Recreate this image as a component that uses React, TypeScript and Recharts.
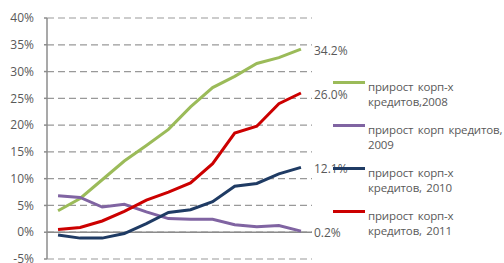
import { LineChart, Line, XAxis, YAxis, CartesianGrid, ReferenceLine } from "recharts";

export const months = ["1", "2", "3", "4", "5", "6", "7", "8", "9", "10", "11", "12"];
export const yTicks = [-5, 0, 5, 10, 15, 20, 25, 30, 35, 40];

export const corp2008 = [4.0, 6.3, 9.8, 13.3, 16.2, 19.2, 23.4, 27.0, 29.1, 31.5, 32.6, 34.2];
export const corp2009 = [6.8, 6.5, 4.7, 5.2, 3.8, 2.55, 2.4, 2.4, 1.4, 1.0, 1.25, 0.2];
export const corp2010 = [-0.5, -1.1, -1.1, -0.25, 1.6, 3.7, 4.2, 5.7, 8.6, 9.1, 10.9, 12.1];
export const corp2011 = [0.5, 0.9, 2.1, 3.9, 6.0, 7.5, 9.2, 12.8, 18.5, 19.8, 24.0, 26.0];

const series = [
  { key: "y2008", name: "прирост корп-х\nкредитов,2008", color: "#9BBB59", values: corp2008 },
  { key: "y2009", name: "прирост корп кредитов,\n2009", color: "#8064A2", values: corp2009 },
  { key: "y2010", name: "прирост корп-х\nкредитов, 2010", color: "#1F3B64", values: corp2010 },
  { key: "y2011", name: "прирост корп-х\nкредитов, 2011", color: "#CC0000", values: corp2011 },
];

const data = months.map((m, i) => {
  const row: Record<string, string | number> = { month: m };
  series.forEach((s) => (row[s.key] = s.values[i]));
  return row;
});

// layout
const W = 504;
const H = 263;
const TOP = 18;
const BOTTOM = 4;
const LEFT = 47;
const RIGHT = 192;
const PLOT_W = W - LEFT - RIGHT;
const PLOT_H = H - TOP - BOTTOM;
const ZERO_Y = TOP + (PLOT_H * 40) / 45;
const HALF = PLOT_W / 24;

const FONT = "'Open Sans', sans-serif";
const TEXT = "#595959";

function XTick(props: any) {
  const { x, index, payload } = props;
  const last = index === months.length - 1;
  return (
    <g>
      <line x1={x - HALF} x2={x - HALF} y1={ZERO_Y} y2={ZERO_Y + 6} stroke="#8c8c8c" strokeWidth={1} />
      {last && <line x1={x + HALF} x2={x + HALF} y1={ZERO_Y} y2={ZERO_Y + 6} stroke="#8c8c8c" strokeWidth={1} />}
      <text x={x} y={ZERO_Y + 21} textAnchor="middle" fill={TEXT} fontSize={12} fontFamily={FONT}>
        {payload.value}
      </text>
    </g>
  );
}

function endLabel(props: any) {
  const { x, y, index, value } = props;
  if (index !== months.length - 1) return null;
  return (
    <text x={x + 13} y={y + 6} fill={TEXT} fontSize={12} fontFamily={FONT}>
      {Number(value).toFixed(1)}%
    </text>
  );
}

export default function App() {
  return (
    <div style={{ position: "absolute", left: 0, top: 0, width: W, height: H, fontFamily: FONT }}>
      <LineChart width={W} height={H} data={data} margin={{ top: TOP, right: RIGHT, bottom: BOTTOM, left: 0 }}>
        <CartesianGrid vertical={false} stroke="#999" strokeDasharray="7 4" strokeWidth={1.2} />
        <XAxis
          dataKey="month"
          height={0}
          axisLine={false}
          tickLine={false}
          tick={<XTick />}
          interval={0}
          padding={{ left: HALF, right: HALF }}
        />
        <YAxis
          width={LEFT}
          domain={[-5, 40]}
          ticks={yTicks}
          interval={0}
          tickFormatter={(v) => `${v}%`}
          tick={{ fill: TEXT, fontSize: 12, fontFamily: FONT }}
          tickSize={3}
          tickMargin={10}
          stroke="#8c8c8c"
          strokeWidth={1.5}
        />
        <ReferenceLine y={0} stroke="#8c8c8c" strokeWidth={1.5} />
        {series.map((s) => (
          <Line
            key={s.key}
            dataKey={s.key}
            type="linear"
            stroke={s.color}
            strokeWidth={3}
            dot={false}
            activeDot={false}
            label={endLabel}
            isAnimationActive={false}
          />
        ))}
      </LineChart>
      <div style={{ position: "absolute", left: 333, top: 78, width: 171 }}>
        {series.map((s) => (
          <div key={s.key} style={{ display: "flex", alignItems: "flex-start", marginBottom: 12 }}>
            <div style={{ width: 32, height: 3, background: s.color, marginTop: 3, flexShrink: 0 }} />
            <div
              style={{
                marginLeft: 3,
                fontSize: 11.5,
                lineHeight: "15px",
                color: TEXT,
                whiteSpace: "pre",
                wordSpacing: 1.5,
                letterSpacing: -0.15,
                marginTop: 1,
              }}
            >
              {s.name}
            </div>
          </div>
        ))}
      </div>
    </div>
  );
}
